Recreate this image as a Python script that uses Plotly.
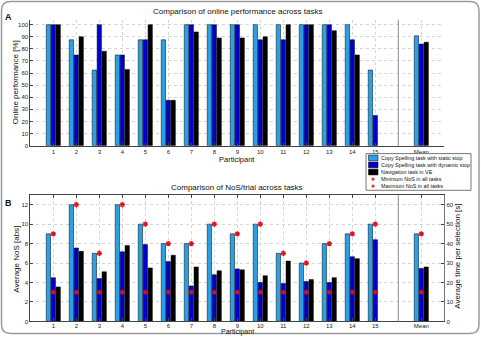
import plotly.graph_objects as go

W, H = 481, 338

# ---------------- data ----------------
positions = [1, 2, 3, 4, 5, 6, 7, 8, 9, 10, 11, 12, 13, 14, 15, 17]
tick_labels = ["1", "2", "3", "4", "5", "6", "7", "8", "9", "10", "11", "12", "13", "14", "15", "Mean"]

series_names = ["Copy Spelling task with static stop",
                "Copy Spelling task with dynamic stop",
                "Navigation task in VE"]

perf_static = [100, 87.5, 62.5, 75, 87.5, 87.5, 100, 100, 100, 100, 100, 100, 100, 100, 62.5, 90.8]
perf_dynamic = [100, 75, 100, 75, 87.5, 37.5, 100, 100, 100, 87.5, 87.5, 100, 100, 87.5, 25, 84]
perf_nav = [100, 90, 78, 63, 100, 37.5, 94, 89, 89, 90, 100, 100, 95, 75, None, 85.5]

nos_static = [9, 12, 7, 12, 10, 8, 8, 10, 9, 10, 7, 6, 8, 9, 10, 9]
nos_dynamic = [4.5, 7.55, 4.4, 7.15, 7.9, 6.15, 3.65, 4.8, 5.4, 4.0, 3.9, 4.1, 4.0, 6.65, 8.4, 5.45]
nos_nav = [3.55, 7.2, 5.1, 7.8, 5.5, 6.8, 5.6, 5.2, 5.3, 4.7, 6.2, 4.3, 4.5, 6.45, None, 5.6]
nos_min = [3, 3, 3, 3, 3, 3, 3, 3, 3, 3, 3, 3, 3, 3, 3, 3]
nos_max = [9, 12, 7, 12, 10, 8, 8, 10, 9, 10, 7, 6, 8, 9, 10, 9]

colors = ["#2A9FE4", "#0000D2", "#000000"]
RED = "#E8101A"
FONT = "Liberation Sans"

def px(x):
    return x / W

def py(y):
    return 1 - y / H

fig = go.Figure()

# panel A bars
for vals, name, col in zip([perf_static, perf_dynamic, perf_nav], series_names, colors):
    fig.add_trace(go.Bar(x=positions, y=vals, name=name, marker_color=col,
                         marker_line_color="black", marker_line_width=0.5,
                         xaxis="x", yaxis="y", showlegend=False))

# panel B bars
for vals, name, col in zip([nos_static, nos_dynamic, nos_nav], series_names, colors):
    fig.add_trace(go.Bar(x=positions, y=vals, name=name, marker_color=col,
                         marker_line_color="black", marker_line_width=0.5,
                         xaxis="x2", yaxis="y2", showlegend=False))

fig.add_trace(go.Scatter(x=positions, y=nos_min, mode="markers", xaxis="x2", yaxis="y2",
                         marker=dict(symbol="asterisk-open", size=4, color="#D0102A",
                                     line=dict(color="#D0102A", width=1.2)),
                         showlegend=False))
fig.add_trace(go.Scatter(x=positions, y=nos_max, mode="markers", xaxis="x2", yaxis="y2",
                         marker=dict(symbol="asterisk-open", size=4.5, color=RED,
                                     line=dict(color=RED, width=1.3)),
                         showlegend=False))
# dummy trace to create right axis
fig.add_trace(go.Scatter(x=[None], y=[None], xaxis="x2", yaxis="y3", showlegend=False))

tickfont = dict(family=FONT, size=6, color="#222")
AXC = "#444"
GRIDC = "#d4d4d4"

xcommon = dict(range=[0, 18], tickvals=positions, ticktext=tick_labels, tickfont=tickfont,
               ticks="inside", ticklen=3, tickcolor=AXC, showline=True, linecolor=AXC,
               linewidth=1, showgrid=True, gridcolor=GRIDC, griddash="dot", gridwidth=0.8,
               zeroline=False, domain=[px(30.3), px(444.3)])

fig.update_layout(
    width=W, height=H, margin=dict(l=0, r=0, t=0, b=0),
    paper_bgcolor="white", plot_bgcolor="white",
    barmode="group", bargap=0.36, bargroupgap=0.12,
    showlegend=False,
    xaxis=dict(**xcommon, anchor="y"),
    yaxis=dict(range=[0, 104], domain=[py(147), py(20)], tickvals=list(range(0, 101, 10)),
               tickfont=tickfont, ticks="inside", ticklen=3, tickcolor=AXC,
               showline=True, linecolor=AXC, linewidth=1, showgrid=True, gridcolor=GRIDC,
               griddash="dot", gridwidth=0.8, zeroline=False, anchor="x"),
    xaxis2=dict(**xcommon, anchor="y2", mirror="ticks", ticklabelstandoff=-2),
    yaxis2=dict(range=[0, 13], domain=[py(324.3), py(196.7)], tickvals=list(range(0, 13, 2)),
                tickfont=tickfont, ticks="inside", ticklen=3, tickcolor=AXC,
                showline=True, linecolor=AXC, linewidth=1, showgrid=True, gridcolor=GRIDC,
                griddash="dot", gridwidth=0.8, zeroline=False, anchor="x2"),
    yaxis3=dict(range=[0, 65], overlaying="y2", side="right", anchor="x2",
                tickvals=list(range(0, 61, 10)), tickfont=tickfont, ticks="inside", ticklen=3,
                tickcolor=AXC, showline=True, linecolor="#777", linewidth=1,
                showgrid=False, zeroline=False),
)

# separators
for xr, yr in [("x", "y domain"), ("x2", "y2 domain")]:
    fig.add_shape(type="line", xref=xr, yref=yr, x0=16, x1=16, y0=0, y1=1,
                  line=dict(color="#8a8a8a", width=1))

# outer rounded frame
l, r, t, b, rad = 1.5, 479, 1.5, 336.5, 9
def P(x, y):
    return f"{px(x):.5f},{py(y):.5f}"
path = (f"M {P(l + rad, t)} L {P(r - rad, t)} Q {P(r, t)} {P(r, t + rad)} "
        f"L {P(r, b - rad)} Q {P(r, b)} {P(r - rad, b)} L {P(l + rad, b)} "
        f"Q {P(l, b)} {P(l, b - rad)} L {P(l, t + rad)} Q {P(l, t)} {P(l + rad, t)} Z")
fig.add_shape(type="path", path=path, xref="paper", yref="paper",
              line=dict(color="#9a9a9a", width=1.5))

def ann(text, x, y, size=8, angle=0, bold=False, color="#111", xanchor="center"):
    if bold:
        text = f"<b>{text}</b>"
    fig.add_annotation(text=text, x=px(x), y=py(y), xref="paper", yref="paper",
                       showarrow=False, textangle=angle, xanchor=xanchor, yanchor="middle",
                       borderpad=0, font=dict(family=FONT, size=size, color=color))

ann("A", 8, 17, size=9, bold=True)
ann("B", 8, 205, size=9, bold=True)
ann("Comparison of online performance across tasks", 237, 12)
ann("Comparison of NoS/trial across tasks", 237, 189)
ann("Online performance [%]", 15, 83, angle=-90)
ann("Participant", 237, 161, size=7.5)
ann("Average NoS [abs]", 17, 262, angle=-90)
ann("Participant", 237, 335.4, size=7)
ann("Average time per selection [s]", 458, 259, angle=-90)

# legend (manual)
lx0, ly0, lx1, ly1 = 366, 155, 471, 192
fig.add_shape(type="rect", xref="paper", yref="paper", x0=px(lx0), x1=px(lx1),
              y0=py(ly1), y1=py(ly0), line=dict(color="#777", width=1), fillcolor="white")
rows = [159.3, 166.4, 173.6, 180.8, 188.0]
for yc, col, name in zip(rows[:3], colors, series_names):
    fig.add_shape(type="rect", xref="paper", yref="paper", x0=px(368.5), x1=px(378),
                  y0=py(yc + 2.9), y1=py(yc - 2.9), fillcolor=col,
                  line=dict(color="black", width=0.5))
    ann(name, 379.5, yc, size=5.4, xanchor="left")
for yc, name, sz in [(rows[3], "Minimum NoS in all tasks", 4.5), (rows[4], "Maximum NoS in all tasks", 5)]:
    ann("✱", 373.3, yc, size=sz, color=RED)
    ann(name, 379.5, yc, size=5.4, xanchor="left")

fig.write_html("out.html")
